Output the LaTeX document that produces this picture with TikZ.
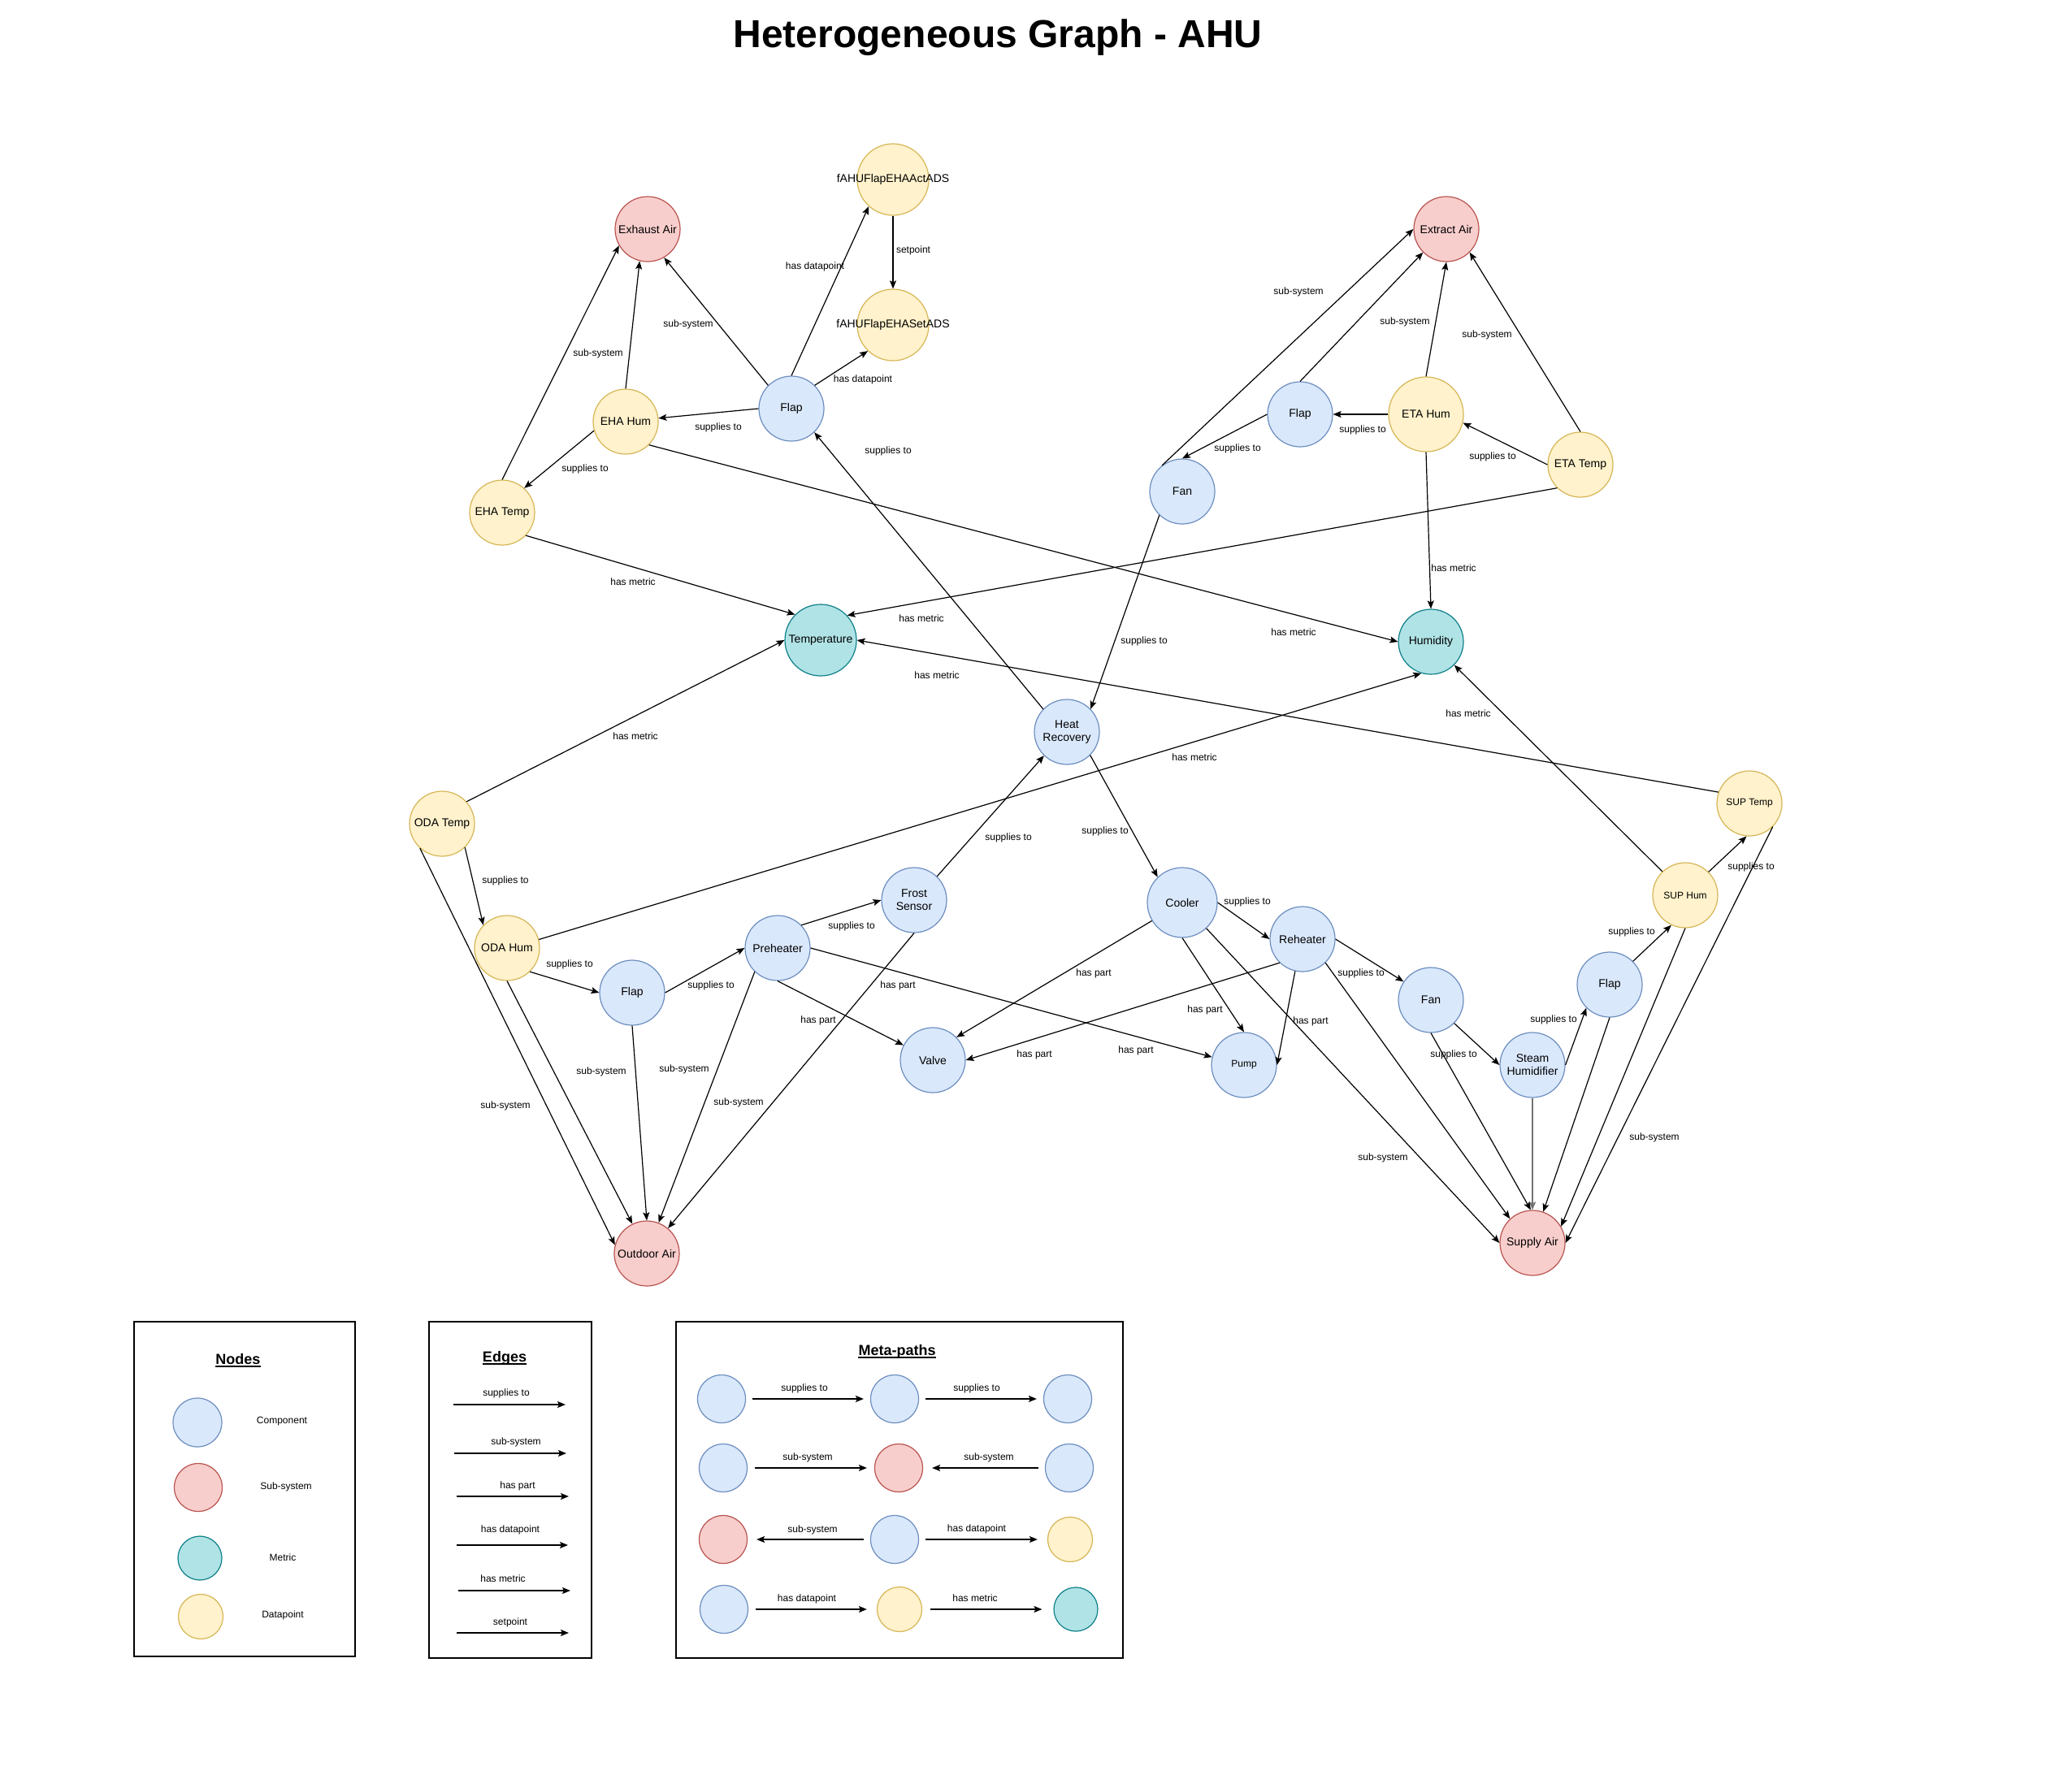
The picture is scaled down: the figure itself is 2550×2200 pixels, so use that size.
\documentclass[tikz,border=0pt]{standalone}
\usepackage{fontspec}
\setmainfont{Liberation Sans}
\usetikzlibrary{arrows.meta}
\definecolor{compF}{HTML}{DAE8FC}\definecolor{compD}{HTML}{6C8EBF}
\definecolor{subF}{HTML}{F8CECC}\definecolor{subD}{HTML}{B85450}
\definecolor{metF}{HTML}{B0E3E6}\definecolor{metD}{HTML}{0E8088}
\definecolor{dpF}{HTML}{FFF2CC}\definecolor{dpD}{HTML}{D6B656}
\tikzset{
 basenode/.style={circle, inner sep=0pt, minimum size=80pt, line width=1.2pt, align=center, font=\fontsize{14}{16}\selectfont},
 compnode/.style={basenode, draw=compD, fill=compF},
 subnode/.style={basenode, draw=subD, fill=subF},
 metnode/.style={basenode, draw=metD, fill=metF},
 dpnode/.style={basenode, draw=dpD, fill=dpF},
 smallfont/.style={font=\fontsize{12}{14}\selectfont},
 edg/.style={line width=1.2pt, -{Stealth[length=10pt,width=8pt,inset=2pt]}},
 grayedg/.style={line width=1.8pt, draw=black!55, -{Stealth[length=10pt,width=8pt,inset=2pt]}},
 lbl/.style={inner sep=0pt, font=\fontsize{12}{14}\selectfont},
 legbox/.style={draw, line width=1.5pt, inner sep=0pt},
 legtitle/.style={inner sep=0pt, font=\fontsize{18}{21}\selectfont\bfseries, anchor=base},
 uline/.style={line width=1.6pt},
}
\begin{document}
\begin{tikzpicture}[x=1pt,y=-1pt]
\fill[white] (0,0) rectangle (2550,2200);
\useasboundingbox (0,0) rectangle (2550,2200);

\node[inner sep=0pt, anchor=base, font=\fontsize{48}{56}\selectfont\bfseries] (title) at (1228,59) {Heterogeneous Graph - AHU};

% ---------- nodes ----------
\node[dpnode, minimum size=88pt] (A) at (1099,221) {\makebox[0pt][c]{fAHUFlapEHAActADS}};
\node[dpnode, minimum size=88pt] (S) at (1099,400) {\makebox[0pt][c]{fAHUFlapEHASetADS}};
\node[subnode] (EX) at (797,282) {Exhaust Air};
\node[compnode] (F1) at (974,503) {Flap};
\node[dpnode] (EH) at (770,519) {EHA Hum};
\node[dpnode] (ET) at (618,631) {EHA Temp};
\node[subnode] (XA) at (1780,282) {Extract Air};
\node[compnode] (F2) at (1600,510) {Flap};
\node[dpnode, minimum size=92pt] (AH) at (1755,510) {ETA Hum};
\node[dpnode] (AT) at (1945,572) {ETA Temp};
\node[compnode] (FNa) at (1455,605) {Fan};
\node[metnode, minimum size=88pt] (TE) at (1010,788) {\makebox[0pt][c]{Temperature}};
\node[metnode] (HU) at (1761,790) {Humidity};
\node[compnode] (HR) at (1313,901) {Heat\\Recovery};
\node[dpnode] (OT) at (544,1014) {ODA Temp};
\node[dpnode, smallfont] (ST) at (2153,989) {SUP Temp};
\node[dpnode, smallfont] (SH) at (2074,1102) {SUP Hum};
\node[dpnode] (OH) at (624,1167) {ODA Hum};
\node[compnode] (F3) at (778,1222) {Flap};
\node[compnode] (PH) at (957,1167) {Preheater};
\node[compnode] (FS) at (1125,1108) {Frost\\Sensor};
\node[compnode, minimum size=86pt] (CO) at (1455,1111) {Cooler};
\node[compnode] (RH) at (1603,1156) {Reheater};
\node[compnode] (VA) at (1148,1305) {Valve};
\node[compnode, smallfont] (PU) at (1531,1311) {Pump};
\node[compnode] (FNb) at (1761,1231) {Fan};
\node[compnode] (F4) at (1981,1212) {Flap};
\node[compnode] (SM) at (1886,1311) {Steam\\Humidifier};
\node[subnode] (OA) at (796,1543) {\makebox[0pt][c]{Outdoor Air}};
\node[subnode] (SA) at (1886,1530) {Supply Air};

% ---------- edges ----------
\draw[edg] (F1.90) -- (A.228);
\draw[edg] (F1.45) -- (S.226);
\draw[edg] (A.270) -- (S.90);
\draw[edg] (F1.135) -- (EX.300);
\draw[edg] (EH.90) -- (EX.256);
\draw[edg] (ET.90) -- (EX.210);
\draw[edg] (F1.180) -- (EH.6);
\draw[edg] (EH.196) -- (ET.48);
\draw[edg] (HR.136) -- (F1.314);
\draw[edg] (EH.315) -- (HU.180);
\draw[edg] (ET.316) -- (TE.135);
\draw[edg] (AH.180) -- (F2.0);
\draw[edg] (F2.180) -- (FNa.90);
\draw[edg] (AT.180) -- (AH.347);
\draw[edg] (FNa.128) -- (XA.180);
\draw[edg] (F2.90) -- (XA.225);
\draw[edg] (AH.90) -- (XA.270);
\draw[edg] (AT.90) -- (XA.315);
\draw[edg] (AH.270) -- (HU.90);
\draw[edg] (AT.225) -- (TE.43);
\draw[edg] (FNa.226) -- (HR.44);
\draw[edg] (ST.160) -- (TE.0);
\draw[edg] (OT.42) -- (TE.180);
\draw[edg] (OH.15) -- (HU.253);
\draw[edg] (SH.134) -- (HU.315);
\draw[edg] (HR.315) -- (CO.134);
\draw[edg] (FS.46) -- (HR.226);
\draw[edg] (OT.314) -- (OH.136);
\draw[edg] (OH.314) -- (F3.180);
\draw[edg] (F3.0) -- (PH.180);
\draw[edg] (PH.44) -- (FS.180);
\draw[edg] (PH.270) -- (VA.153);
\draw[edg] (PH.0) -- (PU.166);
\draw[edg] (OT.228) -- (OA.165);
\draw[edg] (OH.270) -- (OA.116);
\draw[edg] (F3.270) -- (OA.90);
\draw[edg] (PH.226) -- (OA.69);
\draw[edg] (FS.270) -- (OA.50);
\draw[edg] (CO.0) -- (RH.180);
\draw[edg] (RH.0) -- (FNb.146);
\draw[edg] (CO.211) -- (VA.44);
\draw[edg] (CO.270) -- (PU.90);
\draw[edg] (RH.226) -- (VA.0);
\draw[edg] (RH.257) -- (PU.0);
\draw[edg] (CO.313) -- (SA.180);
\draw[edg] (RH.314) -- (SA.133);
\draw[edg] (FNb.315) -- (SM.180);
\draw[edg] (FNb.270) -- (SA.93);
\draw[edg] (SM.0) -- (F4.225);
\draw[grayedg] (SM.270) -- (SA.90);
\draw[edg] (F4.45) -- (SH.245);
\draw[edg] (F4.270) -- (SA.71);
\draw[edg] (SH.45) -- (ST.265);
\draw[edg] (SH.270) -- (SA.30);
\draw[edg] (ST.315) -- (SA.0);

% ---------- edge labels ----------
\node[lbl] (l1) at (1003,328) {has datapoint};
\node[lbl] (l2) at (1062,467) {has datapoint};
\node[lbl] (l3) at (1124,308) {setpoint};
\node[lbl] (l4) at (847,399) {sub-system};
\node[lbl] (l5) at (736,435) {sub-system};
\node[lbl] (l6) at (884,526) {supplies to};
\node[lbl] (l7) at (720,577) {supplies to};
\node[lbl] (l8) at (1093,555) {supplies to};
\node[lbl] (l9) at (1592,778) {has metric};
\node[lbl] (l10) at (779,716) {has metric};
\node[lbl] (l11) at (1677,529) {supplies to};
\node[lbl] (l12) at (1523,552) {supplies to};
\node[lbl] (l13) at (1837,562) {supplies to};
\node[lbl] (l14) at (1598,359) {sub-system};
\node[lbl] (l15) at (1729,396) {sub-system};
\node[lbl] (l16) at (1830,412) {sub-system};
\node[lbl] (l17) at (1789,699) {has metric};
\node[lbl] (l18) at (1134,761) {has metric};
\node[lbl] (l19) at (1408,789) {supplies to};
\node[lbl] (l20) at (1153,831) {has metric};
\node[lbl] (l21) at (782,906) {has metric};
\node[lbl] (l22) at (1470,932) {has metric};
\node[lbl] (l23) at (1807,878) {has metric};
\node[lbl] (l24) at (1360,1023) {supplies to};
\node[lbl] (l25) at (1241,1031) {supplies to};
\node[lbl] (l26) at (622,1084) {supplies to};
\node[lbl] (l27) at (701,1187) {supplies to};
\node[lbl] (l28) at (875,1213) {supplies to};
\node[lbl] (l29) at (1048,1140) {supplies to};
\node[lbl] (l30) at (1007,1256) {has part};
\node[lbl] (l31) at (1105,1213) {has part};
\node[lbl] (l32) at (622,1361) {sub-system};
\node[lbl] (l33) at (740,1319) {sub-system};
\node[lbl] (l34) at (842,1316) {sub-system};
\node[lbl] (l35) at (909,1357) {sub-system};
\node[lbl] (l36) at (1535,1110) {supplies to};
\node[lbl] (l37) at (1675,1198) {supplies to};
\node[lbl] (l38) at (1346,1198) {has part};
\node[lbl] (l39) at (1483,1243) {has part};
\node[lbl] (l40) at (1273,1298) {has part};
\node[lbl] (l41) at (1613,1257) {has part};
\node[lbl] (l42) at (1398,1293) {has part};
\node[lbl] (l43) at (1702,1425) {sub-system};
\node[lbl] (l44) at (1789,1298) {supplies to};
\node[lbl] (l45) at (1912,1255) {supplies to};
\node[lbl] (l46) at (2008,1147) {supplies to};
\node[lbl] (l47) at (2155,1067) {supplies to};
\node[lbl] (l48) at (2036,1400) {sub-system};

% ---------- legend: Nodes ----------
\node[legbox, minimum width=272pt, minimum height=412pt] (nbox) at (301,1833) {};
\node[legtitle] (nt) at (293,1679) {Nodes};
\draw[uline] ([yshift=-3pt]nt.base west) -- ([yshift=-3pt]nt.base east);
\node[compnode, minimum size=60pt] (lc1) at (243,1751) {};
\node[subnode, minimum size=59pt] (lc2) at (244,1831) {};
\node[metnode, minimum size=54pt] (lc3) at (246,1918) {};
\node[dpnode, minimum size=55pt] (lc4) at (247,1990) {};
\node[lbl] (lt1) at (347,1750) {Component};
\node[lbl] (lt2) at (352,1830) {Sub-system};
\node[lbl] (lt3) at (348,1917) {Metric};
\node[lbl] (lt4) at (348,1988) {Datapoint};

% ---------- legend: Edges ----------
\node[legbox, minimum width=200pt, minimum height=414pt] (ebox) at (628,1834) {};
\node[legtitle] (edt) at (621,1676) {Edges};
\draw[uline] ([yshift=-3pt]edt.base west) -- ([yshift=-3pt]edt.base east);
\coordinate (ea1) at (558,1729); \coordinate (eb1) at (696,1729);
\coordinate (ea2) at (559,1789); \coordinate (eb2) at (697,1789);
\coordinate (ea3) at (562,1842); \coordinate (eb3) at (700,1842);
\coordinate (ea4) at (562,1902); \coordinate (eb4) at (699,1902);
\coordinate (ea5) at (564,1958); \coordinate (eb5) at (702,1958);
\coordinate (ea6) at (562,2010); \coordinate (eb6) at (700,2010);
\draw[edg] (ea1) -- (eb1);
\draw[edg] (ea2) -- (eb2);
\draw[edg] (ea3) -- (eb3);
\draw[edg] (ea4) -- (eb4);
\draw[edg] (ea5) -- (eb5);
\draw[edg] (ea6) -- (eb6);
\node[lbl] (el1) at (623,1715) {supplies to};
\node[lbl] (el2) at (635,1775) {sub-system};
\node[lbl] (el3) at (637,1829) {has part};
\node[lbl] (el4) at (628,1883) {has datapoint};
\node[lbl] (el5) at (619,1943) {has metric};
\node[lbl] (el6) at (628,1997) {setpoint};

% ---------- legend: Meta-paths ----------
\node[legbox, minimum width=550pt, minimum height=414pt] (mbox) at (1107,1834) {};
\node[legtitle] (mt) at (1104,1668) {Meta-paths};
\draw[uline] ([yshift=-3pt]mt.base west) -- ([yshift=-3pt]mt.base east);
\node[compnode, minimum size=59pt] (m11) at (888,1722) {};
\node[compnode, minimum size=59pt] (m12) at (1101,1722) {};
\node[compnode, minimum size=59pt] (m13) at (1314,1722) {};
\node[compnode, minimum size=59pt] (m21) at (890,1807) {};
\node[subnode, minimum size=59pt] (m22) at (1106,1807) {};
\node[compnode, minimum size=59pt] (m23) at (1316,1807) {};
\node[subnode, minimum size=59pt] (m31) at (890,1895) {};
\node[compnode, minimum size=59pt] (m32) at (1101,1895) {};
\node[dpnode, minimum size=55pt] (m33) at (1317,1895) {};
\node[compnode, minimum size=59pt] (m41) at (891,1981) {};
\node[dpnode, minimum size=55pt] (m42) at (1107,1981) {};
\node[metnode, minimum size=54pt] (m43) at (1324,1981) {};
\draw[edg, shorten <=8pt, shorten >=8pt] (m11) -- (m12);
\draw[edg, shorten <=8pt, shorten >=8pt] (m12) -- (m13);
\draw[edg, shorten <=9pt, shorten >=9pt] (m21) -- (m22);
\draw[edg, shorten <=8pt, shorten >=11pt] (m23) -- (m22);
\draw[edg, shorten <=8pt, shorten >=11pt] (m32) -- (m31);
\draw[edg, shorten <=8pt, shorten >=12pt] (m32) -- (m33);
\draw[edg, shorten <=9pt, shorten >=12pt] (m41) -- (m42);
\draw[edg, shorten <=10pt, shorten >=14pt] (m42) -- (m43);
\node[lbl] (ml1) at (990,1709) {supplies to};
\node[lbl] (ml2) at (1202,1709) {supplies to};
\node[lbl] (ml3) at (994,1794) {sub-system};
\node[lbl] (ml4) at (1217,1794) {sub-system};
\node[lbl] (ml5) at (1000,1883) {sub-system};
\node[lbl] (ml6) at (1202,1882) {has datapoint};
\node[lbl] (ml7) at (993,1968) {has datapoint};
\node[lbl] (ml8) at (1200,1967) {has metric};
\end{tikzpicture}
\end{document}
